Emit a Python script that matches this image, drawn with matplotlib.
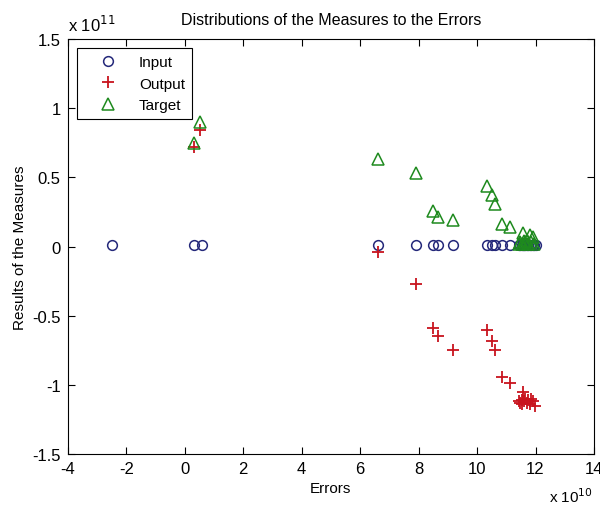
import numpy as np
import matplotlib
matplotlib.use("Agg")
import matplotlib.pyplot as plt
from matplotlib.ticker import FuncFormatter, MultipleLocator

plt.rcParams['font.family'] = ['Liberation Sans', 'DejaVu Sans']

# values in units of 1e10 (x) and 1e11 (y)
input_x = [-2.5, 0.3, 0.58, 6.62, 7.91, 8.49, 8.67, 9.18, 10.34, 10.51, 10.62,
           10.85, 11.13, 11.42, 11.47, 11.52, 11.57, 11.6, 11.65, 11.7, 11.75,
           11.8, 11.85, 11.9, 11.95, 12.0]
input_y = [0.01] * len(input_x)

output_x = [0.3, 0.53, 6.62, 7.91, 8.49, 8.67, 9.18, 10.34, 10.51, 10.62, 10.85,
            11.13, 11.57, 11.42, 11.47, 11.52, 11.55, 11.6, 11.65, 11.7, 11.75,
            11.8, 11.85, 11.9, 11.98]
output_y = [0.72, 0.84, -0.04, -0.27, -0.59, -0.65, -0.75, -0.60, -0.68, -0.75,
            -0.94, -0.99, -1.05, -1.12, -1.13, -1.11, -1.14, -1.12, -1.10, -1.13,
            -1.11, -1.14, -1.10, -1.12, -1.15]

target_x = [0.3, 0.53, 6.62, 7.91, 8.49, 8.67, 9.18, 10.34, 10.51, 10.62, 10.85,
            11.13, 11.57, 11.8, 11.9, 11.42, 11.47, 11.52, 11.6, 11.65, 11.7,
            11.75, 11.85, 11.95]
target_y = [0.75, 0.90, 0.63, 0.53, 0.26, 0.21, 0.19, 0.44, 0.37, 0.31, 0.16,
            0.14, 0.10, 0.08, 0.07, 0.02, 0.03, 0.02, 0.04, 0.03, 0.05,
            0.02, 0.03, 0.02]

fig = plt.figure(figsize=(6, 5.06), dpi=100)
ax = fig.add_axes([0.113, 0.1008, 0.877, 0.820])

ax.plot(input_x, input_y, 'o', mfc='none', mec='#24287a', ms=7, mew=1.1,
        label='Input')
ax.plot(output_x, output_y, '+', color='#c8141e', ms=8, mew=1.3, label='Output')
ax.plot(target_x, target_y, '^', mfc='none', mec='#1e8a1e', ms=8.5, mew=1.1,
        label='Target')

ax.set_xlim(-4, 14)
ax.set_ylim(-1.5, 1.5)
ax.xaxis.set_major_locator(MultipleLocator(2))
ax.yaxis.set_major_locator(MultipleLocator(0.5))
ax.xaxis.set_major_formatter(FuncFormatter(lambda v, p: '%g' % v))
ax.yaxis.set_major_formatter(FuncFormatter(lambda v, p: '%g' % v))
ax.tick_params(direction='in', top=True, right=True, length=5, labelsize=12,
               pad=5)

ax.set_title('Distributions of the Measures to the Errors', fontsize=11.5, pad=11)
ax.set_xlabel('Errors', fontsize=11, labelpad=4)
ax.set_ylabel('Results of the Measures', fontsize=11, labelpad=4)

ax.text(0.0, 1.012, r'x 10$^{11}$', transform=ax.transAxes, fontsize=12,
        ha='left', va='bottom')
ax.text(0.997, -0.116, r'x 10$^{10}$', transform=ax.transAxes, fontsize=11,
        ha='right', va='baseline')

leg = ax.legend(loc='upper left', fancybox=False, edgecolor='black',
                framealpha=1, fontsize=11, borderaxespad=0.6,
                handlelength=3.2, handletextpad=0.4, borderpad=0.45,
                labelspacing=0.5)
leg.get_frame().set_linewidth(0.8)

fig.savefig('out.png', dpi=100)
